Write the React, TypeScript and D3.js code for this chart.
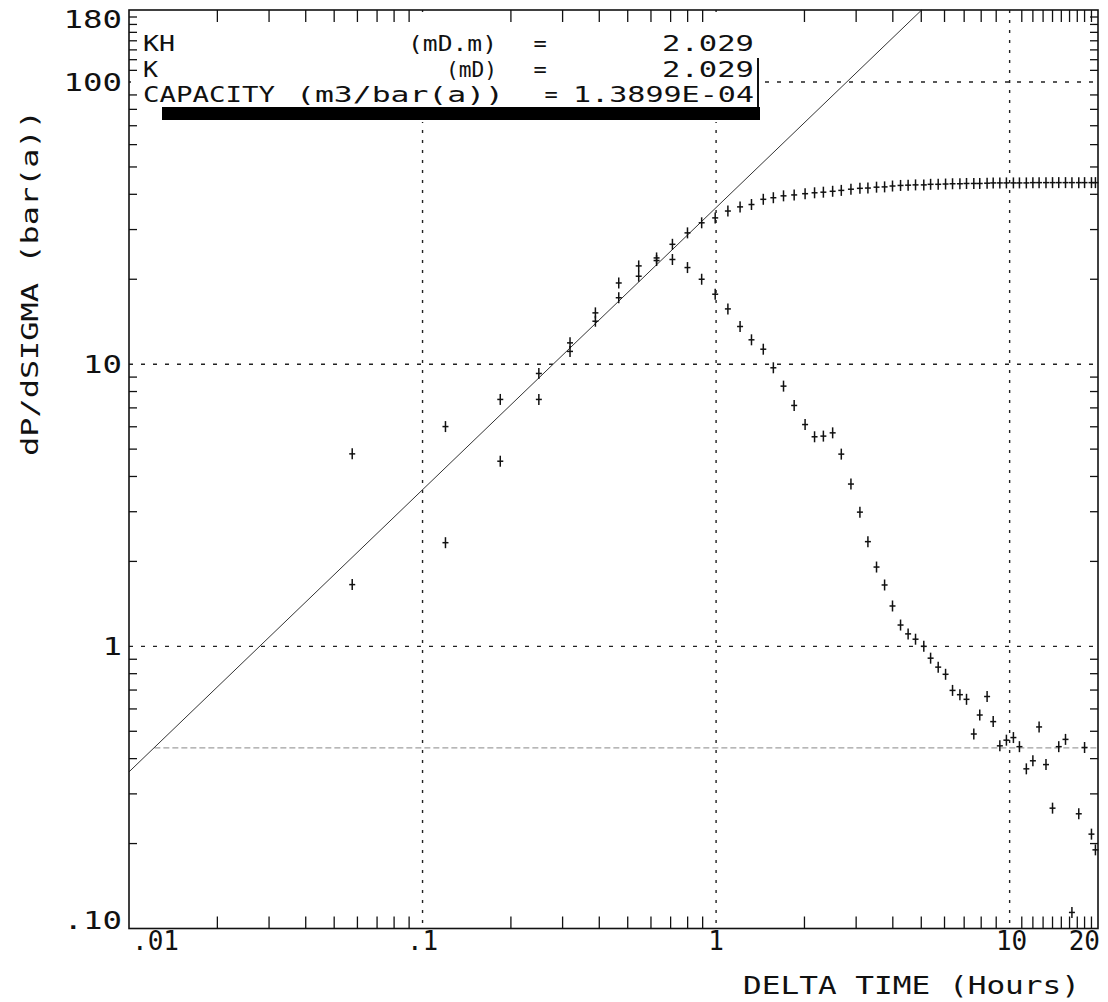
import React from "react";
import * as d3 from "d3";

// ---- data ----
const times = [0.0576, 0.1197, 0.184, 0.249, 0.318, 0.388, 0.466, 0.545, 0.627, 0.71, 0.799, 0.893, 0.993, 1.097, 1.207, 1.32, 1.448, 1.567, 1.697, 1.845, 2.01, 2.165, 2.32, 2.495, 2.67,
  2.88, 3.09, 3.29, 3.52, 3.75, 3.99, 4.25, 4.51, 4.78, 5.1, 5.38, 5.71, 6.05, 6.39, 6.77, 7.13, 7.55, 7.91, 8.38, 8.79, 9.26, 9.75, 10.3, 10.8, 11.4, 12.0, 12.6, 13.3, 14.0, 14.7, 15.5, 16.3, 17.2, 18.0, 19.0, 19.6];

const pressure = [4.81, 6.01, 7.5, 9.27, 11.9, 15.2, 19.4, 22.3, 23.8, 26.6, 29.2, 31.7, 33.0, 34.9, 36.1, 36.8, 38.4, 38.9, 39.5, 39.8, 40.2, 40.5, 40.7, 41.0, 41.3,
  41.7, 42.0, 42.1, 42.4, 42.5, 42.8, 43.0, 43.1, 43.2, 43.2, 43.4, 43.4, 43.5, 43.6, 43.6, 43.7, 43.7, 43.7, 43.8, 43.9, 43.9, 43.9, 43.9, 43.9, 43.9, 44.0, 44.0, 44.0, 44.0, 44.0, 44.0, 44.0, 44.0, 44.0, 44.0, 44.0];

const derivative = [1.655, 2.33, 4.53, 7.5, 11.1, 14.2, 17.2, 20.5, 23.3, 23.5, 22.0, 20.0, 17.7, 15.7, 13.6, 12.2, 11.3, 9.71, 8.36, 7.14, 6.11, 5.53, 5.56, 5.71, 4.8,
  3.76, 2.99, 2.35, 1.91, 1.65, 1.39, 1.19, 1.107, 1.06, 1.0, 0.908, 0.844, 0.796, 0.698, 0.674, 0.649, 0.489, 0.571, 0.664, 0.541, 0.444, 0.465, 0.475, 0.441, 0.368, 0.393, 0.518, 0.381, 0.267, 0.441, 0.468, 0.114, 0.255, 0.438, 0.216, 0.19];

const unitSlopeLine = [[0.01, 0.359], [5.014, 180]];
const radialLine = [[0.0122, 0.437], [20, 0.437]];

const xTickValues = [0.01, 0.1, 1, 10, 20];
const xTickLabels = [".01", ".1", "1", "10", "20"];
const yTickValues = [0.1, 1, 10, 100, 180];
const yTickLabels = [".10", "1", "10", "100", "180"];
const xMinorTicks = [0.02, 0.03, 0.04, 0.05, 0.06, 0.07, 0.08, 0.09, 0.2, 0.3, 0.4, 0.5, 0.6, 0.7, 0.8, 0.9, 2, 3, 4, 5, 6, 7, 8, 9, 11, 12, 13, 14, 15, 16, 17, 18, 19];
const yMinorTicks = [0.2, 0.3, 0.4, 0.5, 0.6, 0.7, 0.8, 0.9, 2, 3, 4, 5, 6, 7, 8, 9, 20, 30, 40, 50, 60, 70, 80, 90, 110, 120, 130, 140, 150, 160, 170];
const xGrid = [0.1, 1, 10];
const yGrid = [1, 10, 100];

const legendRows = [
  { label: "KH", unit: "(mD.m)", value: "2.029" },
  { label: "K", unit: "(mD)", value: "2.029" },
  { label: "CAPACITY", unit: "(m3/bar(a))", value: "1.3899E-04" },
];

const FONT = "'DejaVu Sans Mono', monospace";

export default function App() {
  const W = 1108, H = 1002;
  const L = 129, R = 1098, T = 10, B = 928.5;
  const x = d3.scaleLog().domain([0.01, 20]).range([L, R]);
  const y = d3.scaleLog().domain([0.1, 180]).range([B, T]);
  const line = d3.line<number[]>().x((d) => x(d[0])).y((d) => y(d[1]));

  const cross = (t: number, v: number, k: string) => {
    const cx = x(t), cy = y(v);
    return (
      <g key={k}>
        <line x1={cx} x2={cx} y1={cy - 5.5} y2={cy + 5.5} stroke="#111" strokeWidth={1.5} />
        <line x1={cx - 3} x2={cx + 3} y1={cy} y2={cy} stroke="#111" strokeWidth={1.5} />
      </g>
    );
  };

  const rowBase = [51, 76.5, 102];
  const unitEnd = [497, 497, 504];
  const eqX = [540, 540, 551];
  const labelLen = [32, 15, 132];
  const unitLen = [89, 51, 208];
  const valLen = [92, 92, 181];

  return (
    <svg width={W} height={H} style={{ position: "absolute", left: 0, top: 0, background: "#fff" }} fontFamily={FONT}>
      <rect x={0} y={0} width={W} height={H} fill="#fff" />
      {/* grid */}
      {xGrid.map((g) => (
        <line key={"gx" + g} x1={x(g)} x2={x(g)} y1={T} y2={B} stroke="#222" strokeWidth={1.4} strokeDasharray="3 7" />
      ))}
      {yGrid.map((g) => (
        <line key={"gy" + g} x1={L} x2={R} y1={y(g)} y2={y(g)} stroke="#222" strokeWidth={1.4} strokeDasharray="4 8" />
      ))}
      {/* reference lines */}
      <path d={line(radialLine) || ""} stroke="#a0a0a0" strokeWidth={1.2} strokeDasharray="6 3" fill="none" />
      <path d={line(unitSlopeLine) || ""} stroke="#333" strokeWidth={1} fill="none" />
      {/* legend box */}
      <rect x={131} y={12} width={629} height={110} fill="#fff" />
      {/* data */}
      {times.map((t, i) => cross(t, pressure[i], "p" + i))}
      {times.map((t, i) => cross(t, derivative[i], "d" + i))}
      {/* frame */}
      <rect x={L} y={T} width={R - L} height={B - T} fill="none" stroke="#111" strokeWidth={1.6} />
      {xMinorTicks.map((t) => (
        <g key={"xt" + t}>
          <line x1={x(t)} x2={x(t)} y1={B} y2={B - 12} stroke="#111" strokeWidth={1.3} />
          <line x1={x(t)} x2={x(t)} y1={T} y2={T + 12} stroke="#111" strokeWidth={1.3} />
        </g>
      ))}
      {yMinorTicks.map((v) => (
        <g key={"yt" + v}>
          <line x1={L} x2={L + 8} y1={y(v)} y2={y(v)} stroke="#111" strokeWidth={1.3} />
          <line x1={R} x2={R - 8} y1={y(v)} y2={y(v)} stroke="#111" strokeWidth={1.3} />
        </g>
      ))}
      {/* legend text */}
      {legendRows.map((r, i) => (
        <g key={"lg" + i} fontSize={22} fill="#111">
          <text x={143} y={rowBase[i]} textLength={labelLen[i]} lengthAdjust="spacingAndGlyphs">{r.label}</text>
          <text x={unitEnd[i] - unitLen[i]} y={rowBase[i]} textLength={unitLen[i]} lengthAdjust="spacingAndGlyphs">{r.unit}</text>
          <text x={eqX[i]} y={rowBase[i]} textAnchor="middle">=</text>
          <text x={754 - valLen[i]} y={rowBase[i]} textLength={valLen[i]} lengthAdjust="spacingAndGlyphs">{r.value}</text>
        </g>
      ))}
      <line x1={758} x2={758} y1={58} y2={110} stroke="#111" strokeWidth={2} />
      <rect x={162} y={107} width={598} height={13} fill="#000" />
      {/* x tick labels */}
      {xTickValues.map((t, i) => {
        const lbl = xTickLabels[i];
        const anchor = i === 0 ? "start" : i === xTickValues.length - 1 ? "end" : "middle";
        const px = i === 0 ? x(t) + 3 : i === xTickValues.length - 1 ? x(t) + 2 : x(t) + (i === 3 ? 2 : 0);
        return (
          <text key={"xl" + i} x={px} y={950} fontSize={26} textAnchor={anchor} fill="#111">{lbl}</text>
        );
      })}
      {/* y tick labels */}
      {yTickValues.map((v, i) => {
        const lbl = yTickLabels[i];
        const base = i === 0 ? B : i === yTickValues.length - 1 ? 28 : y(v) + 9;
        return (
          <text key={"yl" + i} x={122} y={base} fontSize={25} textAnchor="end" fill="#111" textLength={lbl.length * 19.5} lengthAdjust="spacingAndGlyphs">{lbl}</text>
        );
      })}
      {/* axis titles */}
      <text x={743} y={994} fontSize={25} fill="#111" textLength={337} lengthAdjust="spacingAndGlyphs">DELTA TIME (Hours)</text>
      <text transform="translate(38,283) rotate(-90)" fontSize={23} fill="#111" textAnchor="middle" textLength={346} lengthAdjust="spacingAndGlyphs">dP/dSIGMA (bar(a))</text>
    </svg>
  );
}
